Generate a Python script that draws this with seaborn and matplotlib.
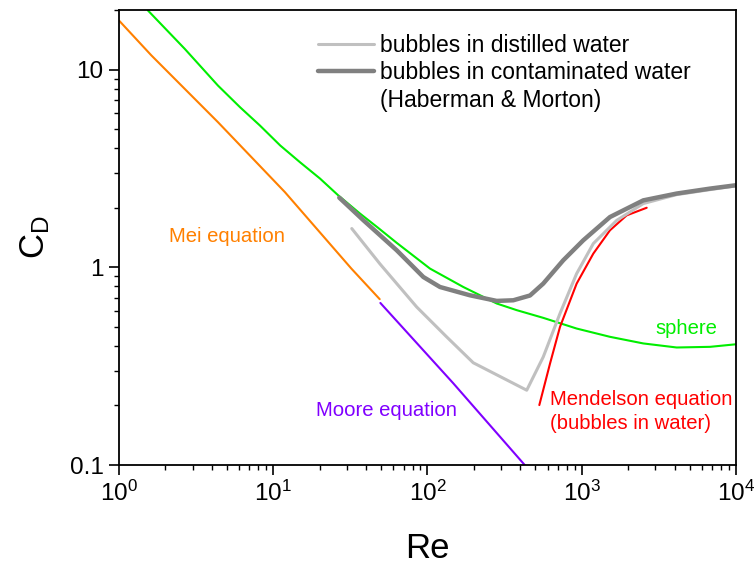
import matplotlib
matplotlib.use("Agg")
import matplotlib.pyplot as plt
from matplotlib.lines import Line2D
from matplotlib.ticker import LogLocator, FixedLocator, FixedFormatter, NullFormatter
import seaborn as sns
import pandas as pd

# Drag coefficient C_D versus Reynolds number Re
mei_re = [1, 1.62, 4.38, 11.9, 32.1, 49]
mei_cd = [17.7, 11.8, 5.42, 2.40, 0.985, 0.69]

moore_re = [49.5, 147, 429]
moore_cd = [0.66, 0.259, 0.0996]

sphere_re = [1.54, 2.67, 4.38, 6.09, 8.2, 11.1, 14.9, 20.1, 26.4, 36.5, 48, 63.1, 103.8,
             170.7, 281, 379, 563, 927, 1524, 2506, 4125, 6790, 10000]
sphere_cd = [19.9, 12.72, 8.30, 6.45, 5.21, 4.13, 3.40, 2.81, 2.31, 1.87, 1.58, 1.33, 0.985,
             0.795, 0.656, 0.607, 0.555, 0.49, 0.445, 0.412, 0.393, 0.396, 0.408]

distilled_re = [32.3, 49.2, 85.1, 133, 198, 440, 563, 723, 927, 1189, 1686, 2506,
                4125, 6790, 10000]
distilled_cd = [1.57, 1.04, 0.63, 0.445, 0.329, 0.239, 0.352, 0.584, 0.929, 1.318,
                1.727, 2.10, 2.33, 2.47, 2.58]

contaminated_re = [26.8, 38.4, 63.1, 94, 120.5, 188, 281, 360, 462, 563, 759, 1023,
                   1524, 2506, 4125, 6790, 10000]
contaminated_cd = [2.25, 1.73, 1.22, 0.893, 0.795, 0.722, 0.676, 0.681, 0.72, 0.827,
                   1.085, 1.369, 1.795, 2.18, 2.36, 2.50, 2.60]

mendelson_re = [531, 623, 723, 927, 1189, 1524, 1955, 2637]
mendelson_cd = [0.201, 0.326, 0.4995, 0.827, 1.173, 1.538, 1.83, 2.0]

GREEN, ORANGE, PURPLE, RED = "#00EE00", "#FF8000", "#8000FF", "#FF0000"
LIGHT, DARK = "#C0C0C0", "#808080"

sns.set_style("ticks")
plt.rcParams["font.family"] = ["Liberation Sans", "DejaVu Sans"]
plt.rcParams["mathtext.fontset"] = "custom"
plt.rcParams["mathtext.rm"] = "Liberation Sans"
plt.rcParams["mathtext.it"] = "Liberation Sans"
for key in ("text.color", "axes.labelcolor", "xtick.color", "ytick.color",
            "axes.edgecolor"):
    plt.rcParams[key] = "black"

fig = plt.figure(figsize=(7.55, 5.66), dpi=100)
ax = fig.add_axes([0.1576, 0.1784, 0.8172, 0.8039])

def curve(re, cd, color, lw):
    df = pd.DataFrame({"Re": re, "CD": cd})
    sns.lineplot(data=df, x="Re", y="CD", ax=ax, color=color, linewidth=lw,
                 sort=False, estimator=None, legend=False)

curve(sphere_re, sphere_cd, GREEN, 1.5)
curve(mei_re, mei_cd, ORANGE, 1.5)
curve(moore_re, moore_cd, PURPLE, 1.5)
curve(mendelson_re, mendelson_cd, RED, 1.5)
curve(distilled_re, distilled_cd, LIGHT, 2.2)
curve(contaminated_re, contaminated_cd, DARK, 3.2)

ax.set_xscale("log")
ax.set_yscale("log")
ax.set_xlim(1, 1e4)
ax.set_ylim(0.1, 20)

ax.xaxis.set_major_locator(FixedLocator([1, 10, 100, 1000, 10000]))
ax.xaxis.set_major_formatter(FixedFormatter(
    [r"$\mathregular{10^{0}}$", r"$\mathregular{10^{1}}$", r"$\mathregular{10^{2}}$",
     r"$\mathregular{10^{3}}$", r"$\mathregular{10^{4}}$"]))
ax.xaxis.set_minor_locator(LogLocator(base=10, subs=range(2, 10), numticks=20))
ax.xaxis.set_minor_formatter(NullFormatter())
ax.yaxis.set_major_locator(FixedLocator([0.1, 1, 10]))
ax.yaxis.set_major_formatter(FixedFormatter(["0.1", "1", "10"]))
ax.yaxis.set_minor_locator(LogLocator(base=10, subs=range(2, 10), numticks=20))
ax.yaxis.set_minor_formatter(NullFormatter())

ax.tick_params(which="major", direction="out", length=7, width=1.2, labelsize=17.5,
               colors="black", labelcolor="black", top=False, right=False, pad=4)
ax.tick_params(which="minor", direction="out", length=3.5, width=1.0,
               colors="black", top=False, right=False)
for s in ax.spines.values():
    s.set_linewidth(1.3)
    s.set_color("black")

ax.set_xlabel("Re", fontsize=25, labelpad=19, color="black")
ax.set_ylabel(r"C$_\mathregular{D}$", fontsize=25, labelpad=13, color="black")

ax.text(0.081, 0.503, "Mei equation", transform=ax.transAxes, color=ORANGE,
        fontsize=14.6, va="center")
ax.text(0.319, 0.119, "Moore equation", transform=ax.transAxes, color=PURPLE,
        fontsize=14.6, va="center")
ax.text(0.869, 0.301, "sphere", transform=ax.transAxes, color=GREEN,
        fontsize=14.6, va="center")
ax.text(0.699, 0.143, "Mendelson equation", transform=ax.transAxes, color=RED,
        fontsize=14.6, va="center")
ax.text(0.699, 0.092, "(bubbles in water)", transform=ax.transAxes, color=RED,
        fontsize=14.6, va="center")

handles = [Line2D([], [], color=LIGHT, linewidth=2.2),
           Line2D([], [], color=DARK, linewidth=3.2),
           Line2D([], [], linestyle="none")]
labels = ["bubbles in distilled water", "bubbles in contaminated water",
          "(Haberman & Morton)"]
leg = ax.legend(handles, labels, loc="upper left", bbox_to_anchor=(0.3225, 0.948),
                frameon=False, fontsize=16.5, handlelength=2.45, handletextpad=0.25,
                labelspacing=0.2, borderaxespad=0, borderpad=0, labelcolor="black")

fig.savefig("out.png", dpi=100)
